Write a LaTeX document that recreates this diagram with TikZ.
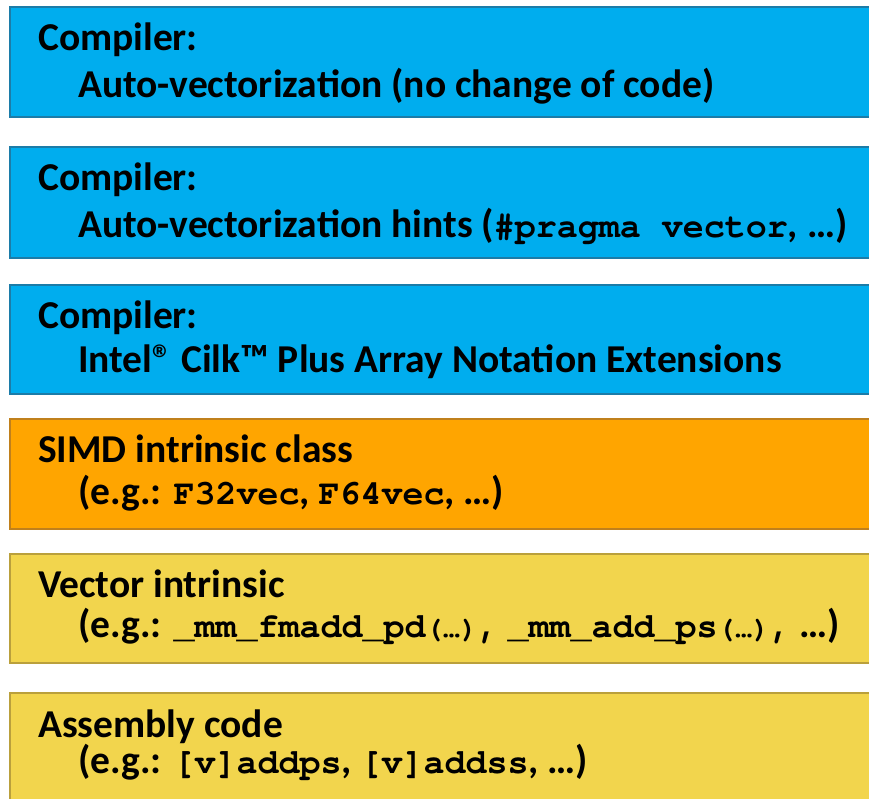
\documentclass[tikz,border=0pt]{standalone}
\usepackage{fontspec}
\setmainfont{Carlito}
\setmonofont{TeX Gyre Cursor}
\definecolor{bluefill}{RGB}{0,173,238}
\definecolor{blueedge}{RGB}{28,124,168}
\definecolor{orangefill}{RGB}{255,165,0}
\definecolor{orangeedge}{RGB}{192,128,28}
\definecolor{yellowfill}{RGB}{242,213,77}
\definecolor{yellowedge}{RGB}{186,160,60}
\tikzset{
  layer/.style={line width=2pt},
  bluelayer/.style={layer, draw=blueedge, fill=bluefill},
  orangelayer/.style={layer, draw=orangeedge, fill=orangefill},
  yellowlayer/.style={layer, draw=yellowedge, fill=yellowfill},
  txt/.style={anchor=base west, inner sep=0pt, font=\fontsize{39.5}{46}\selectfont\bfseries},
}
% code snippets in a bold typewriter face
\newcommand{\cd}[1]{{\fontsize{35}{40}\selectfont\ttfamily\bfseries #1}}
% small argument placeholder "(…)"
\newcommand{\args}{{\fontsize{29}{32}\selectfont\ttfamily (…)}}
\begin{document}
\begin{tikzpicture}[x=1pt, y=-1pt]
  \useasboundingbox (0,0) rectangle (869,798);
  \clip (0,0) rectangle (869,798);
  % layer boxes
  \draw[bluelayer]   (10,7)   rectangle (890,117);
  \draw[bluelayer]   (10,147) rectangle (890,258);
  \draw[bluelayer]   (10,285) rectangle (890,394);
  \draw[orangelayer] (10,419) rectangle (890,529);
  \draw[yellowlayer] (10,554) rectangle (890,663);
  \draw[yellowlayer] (10,693) rectangle (890,810);
  % labels
  \node[txt] (t1a) at (38,50)  {Compiler:};
  \node[txt] (t1b) at (78,97)  {Auto-vectorization (no change of code)};
  \node[txt] (t2a) at (38,190) {Compiler:};
  \node[txt] (t2b) at (78,237) {Auto-vectorization hints (\cd{\#pragma vector}, …)};
  \node[txt] (t3a) at (38,328) {Compiler:};
  \node[txt] (t3b) at (78,372) {Intel® Cilk™ Plus Array Notation Extensions};
  \node[txt] (t4a) at (38,462) {SIMD intrinsic class};
  \node[txt] (t4b) at (78,504) {(e.g.: \cd{F32vec}, \cd{F64vec}, …)};
  \node[txt] (t5a) at (38,597) {Vector intrinsic};
  \node[txt] (t5b) at (78,637) {(e.g.: \cd{\_mm\_fmadd\_pd}\args\cd{,} \cd{\_mm\_add\_ps}\args\cd{,} …)};
  \node[txt] (t6a) at (38,737) {Assembly code};
  \node[txt] (t6b) at (78,773) {(e.g.: \cd{[v]addps}, \cd{[v]addss}, …)};
\end{tikzpicture}
\end{document}
